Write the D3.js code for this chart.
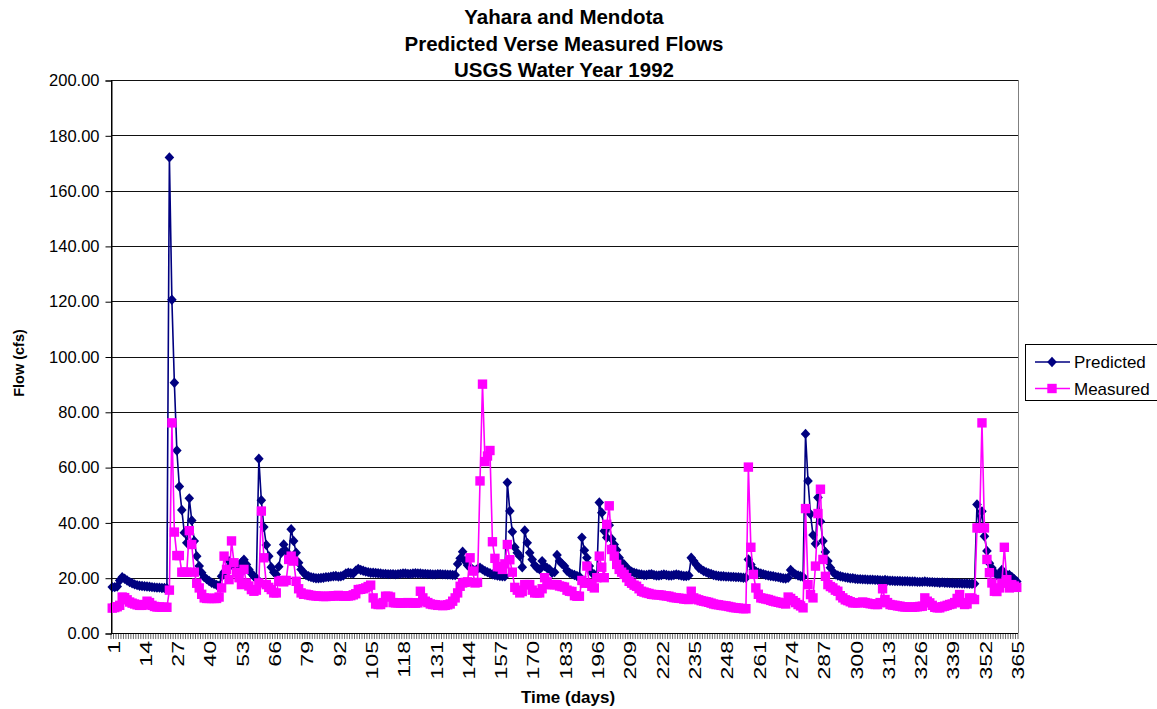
<!DOCTYPE html>
<html>
<head>
<meta charset="utf-8">
<script src="https://cdn.jsdelivr.net/npm/d3@7"></script>
<style>
body { margin: 0; background: #fff; }
text { font-family: "Liberation Sans", Arial, sans-serif; }
</style>
</head>
<body>
<svg id="chart" width="1157" height="709"></svg>
<script>
// flows per day, water year 1992 (day 1 .. 365)
var predicted = [
  16.6, 16.6, 16.8, 19.0, 20.2, 19.6, 19.0, 18.4, 18.0, 17.6,
  17.3, 17.1, 17.0, 16.9, 16.8, 16.7, 16.6, 16.5, 16.4, 16.4,
  16.3, 16.3, 16.2, 172.0, 120.5, 90.5, 66.0, 53.0, 44.5, 36.3,
  32.6, 48.7, 40.7, 33.3, 27.8, 24.2, 21.8, 20.2, 19.5, 18.8,
  18.2, 17.8, 17.4, 17.1, 20.5, 22.0, 23.0, 26.0, 24.8, 24.2,
  23.8, 24.5, 25.5, 26.5, 24.8, 23.0, 21.5, 20.5, 19.8, 63.0,
  48.0, 38.3, 31.8, 27.8, 23.8, 22.0, 21.2, 24.0, 29.0, 32.0,
  29.6, 28.0, 37.5, 33.3, 29.0, 25.4, 23.0, 21.8, 21.0, 20.5,
  20.2, 20.0, 19.8, 19.8, 19.9, 20.0, 20.2, 20.2, 20.4, 20.5,
  20.6, 20.4, 20.5, 20.8, 21.5, 21.8, 21.6, 21.5, 22.5, 23.2,
  22.8, 22.5, 22.2, 22.0, 21.8, 21.8, 21.7, 21.6, 21.5, 21.4,
  21.4, 21.3, 21.3, 21.3, 21.2, 21.3, 21.4, 21.5, 21.5, 21.4,
  21.4, 21.5, 21.6, 21.5, 21.5, 21.4, 21.4, 21.3, 21.3, 21.2,
  21.2, 21.3, 21.3, 21.2, 21.2, 21.1, 21.1, 21.0, 21.0, 25.0,
  27.0, 29.4, 26.0, 24.5, 23.8, 23.0, 22.6, 23.2, 23.6, 23.0,
  22.4, 22.0, 21.6, 21.2, 21.0, 20.8, 20.6, 20.5, 20.5, 54.4,
  44.1, 36.6, 31.0, 29.0, 27.8, 23.8, 37.1, 32.6, 29.0, 26.6,
  24.5, 23.5, 23.0, 26.0, 24.2, 23.5, 23.0, 21.8, 22.0, 28.2,
  26.0, 25.0, 24.2, 22.5, 21.8, 21.3, 21.0, 20.6, 20.4, 34.5,
  29.9, 27.2, 24.2, 21.8, 21.2, 20.8, 47.2, 43.5, 36.9, 34.5,
  39.0, 34.0, 32.0, 30.0, 27.2, 25.5, 24.8, 23.6, 22.8, 22.2,
  21.8, 21.5, 21.3, 21.2, 21.0, 21.0, 21.2, 21.3, 21.0, 20.8,
  20.8, 21.0, 21.2, 21.0, 20.8, 20.8, 21.0, 21.2, 21.0, 20.8,
  20.6, 20.6, 20.8, 27.2, 26.0, 24.8, 23.6, 23.0, 22.4, 22.0,
  21.6, 21.4, 21.0, 20.8, 20.6, 20.5, 20.5, 20.4, 20.4, 20.3,
  20.3, 20.2, 20.2, 20.1, 20.0, 20.0, 26.6, 24.8, 23.0, 22.3,
  21.8, 21.5, 21.3, 21.0, 20.8, 20.6, 20.5, 20.3, 20.2, 20.0,
  19.8, 19.7, 20.0, 22.8, 21.8, 21.2, 20.8, 20.5, 20.3, 72.0,
  55.0, 43.0, 35.4, 32.3, 49.0, 40.3, 33.3, 29.3, 26.0, 23.6,
  22.1, 21.2, 20.8, 20.5, 20.3, 20.1, 20.0, 19.8, 19.8, 19.6,
  19.5, 19.5, 19.4, 19.4, 19.3, 19.3, 19.3, 19.2, 19.2, 19.1,
  19.0, 19.2, 19.0, 18.9, 18.9, 18.8, 18.8, 18.8, 18.7, 18.7,
  18.7, 18.6, 18.6, 18.6, 18.5, 18.5, 18.5, 18.6, 18.5, 18.4,
  18.4, 18.3, 18.3, 18.2, 18.3, 18.2, 18.2, 18.1, 18.1, 18.0,
  18.0, 18.0, 17.9, 17.9, 17.9, 17.8, 17.8, 17.8, 46.5, 38.0,
  44.0, 35.0, 29.7, 25.2, 23.5, 22.0, 21.0, 21.0, 22.8, 21.5,
  21.0, 21.0, 20.3, 19.5, 18.6
];

var measured = [
  9.0, 9.2, 9.5, 10.0, 13.0, 12.8, 12.0, 11.2, 10.8, 10.5,
  10.2, 10.0, 10.0, 10.3, 11.5, 11.0, 10.0, 9.6, 9.4, 9.4,
  9.3, 9.3, 9.3, 15.5, 76.0, 36.5, 28.0, 28.0, 22.0, 22.0,
  22.0, 37.0, 32.0, 22.0, 18.0, 16.3, 14.0, 12.7, 12.5, 12.5,
  12.5, 12.5, 12.5, 13.0, 16.3, 27.8, 23.0, 19.3, 33.3, 25.4,
  21.8, 20.0, 17.5, 23.0, 18.1, 17.0, 15.7, 15.1, 15.5, 18.1,
  44.1, 27.2, 17.5, 16.5, 15.7, 14.5, 14.5, 18.7, 19.0, 18.5,
  19.0, 26.6, 27.8, 26.0, 18.7, 16.0, 14.5, 14.0, 14.0, 13.8,
  13.6, 13.5, 13.4, 13.3, 13.3, 13.2, 13.2, 13.3, 13.3, 13.4,
  13.5, 13.6, 13.4, 13.3, 13.3, 13.4, 13.5, 13.8, 14.2, 15.7,
  15.8, 16.0, 16.3, 16.8, 17.3, 12.7, 10.5, 10.3, 10.3, 11.0,
  13.3, 13.3, 13.0, 11.0, 10.9, 10.9, 10.8, 10.8, 10.9, 11.0,
  10.9, 10.8, 10.8, 10.9, 15.1, 12.7, 11.5, 11.0, 10.5, 10.3,
  10.2, 10.0, 10.0, 9.9, 10.0, 10.2, 10.5, 11.5, 12.7, 14.5,
  16.9, 18.1, 18.3, 18.5, 27.2, 22.4, 18.1, 18.3, 55.0, 90.0,
  62.0, 64.0, 66.0, 33.0, 27.0, 24.0, 24.0, 23.0, 25.0, 32.0,
  26.5, 22.0, 16.5, 15.5, 14.5, 15.0, 17.5, 17.5, 17.5, 15.5,
  14.5, 14.5, 14.5, 16.0, 20.0, 18.5, 17.5, 17.5, 17.5, 17.5,
  17.0, 16.8, 16.6, 15.5, 15.1, 15.0, 13.5, 13.3, 13.3, 19.0,
  18.0, 24.2, 18.0, 16.9, 16.3, 20.0, 27.8, 23.8, 20.0, 39.3,
  46.0, 30.2, 27.8, 24.8, 23.0, 22.0, 21.2, 20.0, 18.7, 18.0,
  17.3, 16.9, 16.0, 15.1, 14.8, 14.5, 14.3, 14.0, 13.9, 13.8,
  13.8, 13.7, 13.5, 13.4, 13.3, 13.0, 12.8, 12.7, 12.6, 12.5,
  12.3, 12.2, 12.1, 15.1, 12.7, 12.3, 12.0, 11.7, 11.5, 11.3,
  11.1, 10.8, 10.5, 10.3, 10.2, 10.0, 9.9, 9.8, 9.6, 9.4,
  9.2, 9.1, 9.0, 8.9, 8.8, 8.8, 60.0, 31.0, 21.2, 16.3,
  14.0, 12.7, 12.5, 12.3, 12.1, 11.8, 11.5, 11.3, 11.1, 10.9,
  10.7, 10.5, 13.0, 12.5, 11.7, 11.0, 10.3, 9.8, 9.1, 45.0,
  17.5, 13.9, 12.7, 24.2, 43.2, 52.0, 26.6, 20.5, 17.5, 16.8,
  16.3, 15.5, 15.1, 13.5, 12.7, 12.0, 11.7, 11.3, 10.9, 10.9,
  10.9, 11.0, 11.2, 11.0, 10.8, 10.6, 10.5, 10.3, 10.3, 11.0,
  16.0, 12.1, 11.0, 10.3, 10.1, 10.0, 9.8, 9.7, 9.5, 9.4,
  9.4, 9.3, 9.3, 9.4, 9.5, 9.6, 9.7, 12.7, 11.5, 10.9,
  10.0, 9.3, 9.1, 9.1, 9.5, 9.7, 10.0, 10.3, 10.5, 11.0,
  12.5, 13.9, 11.0, 10.3, 10.5, 12.7, 12.5, 12.1, 38.0, 38.0,
  76.0, 38.0, 26.6, 21.8, 18.1, 15.1, 15.0, 16.3, 18.0, 31.0,
  19.3, 16.3, 17.5, 17.0, 16.5
];

var days = predicted.map(function(d, i) { return i + 1; });
var dayLabels = [1, 14, 27, 40, 53, 66, 79, 92, 105, 118, 131, 144, 157, 170,
                 183, 196, 209, 222, 235, 248, 261, 274, 287, 300, 313, 326, 339, 352, 365];
var flowTicks = [0, 20, 40, 60, 80, 100, 120, 140, 160, 180, 200];
var titleLines = ['Yahara and Mendota', 'Predicted Verse Measured Flows', 'USGS Water Year 1992'];

var plotLeft = 111, plotRight = 1018, plotTop = 80, plotBottom = 633;

var svg = d3.select('#chart');

var x = d3.scaleBand().domain(days).range([plotLeft, plotRight]);
var y = d3.scaleLinear().domain([0, 200]).range([plotBottom, plotTop]);
function cx(d) { return x(d) + x.bandwidth() / 2; }

// gridlines
svg.append('g')
   .selectAll('line')
   .data(flowTicks.filter(function(d) { return d > 0; }))
   .enter()
   .append('line')
   .attr('x1', plotLeft).attr('x2', plotRight)
   .attr('y1', function(d) { return Math.round(y(d)) + 0.5; })
   .attr('y2', function(d) { return Math.round(y(d)) + 0.5; })
   .attr('stroke', '#111')
   .attr('stroke-width', 1);

// plot border (right side grey)
svg.append('line')
   .attr('x1', plotRight + 0.5).attr('x2', plotRight + 0.5)
   .attr('y1', plotTop).attr('y2', plotBottom)
   .attr('stroke', '#808080');

// y axis
var yAxis = d3.axisLeft(y)
    .tickValues(flowTicks)
    .tickSize(6)
    .tickPadding(6)
    .tickFormat(d3.format('.2f'));
var yg = svg.append('g')
   .attr('transform', 'translate(' + (plotLeft + 0.5) + ',0.5)')
   .call(yAxis);
yg.selectAll('text').style('font-size', '16.5px').attr('fill', '#000');
yg.selectAll('line, path').attr('stroke', '#000');

// x axis: tick at every category boundary
var xg = svg.append('g');
xg.append('line')
  .attr('x1', plotLeft).attr('x2', plotRight)
  .attr('y1', plotBottom + 0.5).attr('y2', plotBottom + 0.5)
  .attr('stroke', '#000');
xg.selectAll('line.tk')
  .data(days.concat([366]))
  .enter()
  .append('line')
  .attr('class', 'tk')
  .attr('x1', function(d) { return (d <= 365 ? x(d) : plotRight); })
  .attr('x2', function(d) { return (d <= 365 ? x(d) : plotRight); })
  .attr('y1', plotBottom).attr('y2', plotBottom + 6)
  .attr('stroke', '#000')
  .attr('stroke-width', 0.6);

xg.selectAll('text')
  .data(dayLabels)
  .enter()
  .append('text')
  .attr('transform', function(d) {
     return 'translate(' + (cx(d) + 1.5) + ',' + (plotBottom + 8) + ') rotate(-90) scale(1.4,1)';
  })
  .attr('text-anchor', 'end')
  .attr('dy', '0.35em')
  .style('font-size', '16.5px')
  .text(function(d) { return d; });

// titles
svg.append('g')
   .selectAll('text')
   .data(titleLines)
   .enter()
   .append('text')
   .attr('x', 564)
   .attr('y', function(d, i) { return 24 + i * 26.5; })
   .attr('text-anchor', 'middle')
   .style('font-size', '20.5px')
   .style('font-weight', 'bold')
   .text(function(d) { return d; });

svg.append('text')
   .attr('x', 568).attr('y', 703)
   .attr('text-anchor', 'middle')
   .style('font-size', '17px')
   .style('font-weight', 'bold')
   .text('Time (days)');

svg.append('text')
   .attr('transform', 'translate(24,363) rotate(-90)')
   .attr('text-anchor', 'middle')
   .style('font-size', '14.5px')
   .style('font-weight', 'bold')
   .text('Flow (cfs)');

// series
var diamond = 'M0,-5.2L4.8,0L0,5.2L-4.8,0Z';
var square = 'M-4.7,-4.7H4.7V4.7H-4.7Z';

var series = [
  { name: 'Predicted', values: predicted, color: '#000080', marker: diamond },
  { name: 'Measured', values: measured, color: '#FF00FF', marker: square }
];

var line = d3.line()
    .x(function(d, i) { return cx(i + 1); })
    .y(function(d) { return y(d); });

series.forEach(function(s) {
  var g = svg.append('g');
  g.append('path')
   .attr('d', line(s.values))
   .attr('fill', 'none')
   .attr('stroke', s.color)
   .attr('stroke-width', 1.6);
  g.selectAll('path.m')
   .data(s.values)
   .enter()
   .append('path')
   .attr('class', 'm')
   .attr('d', s.marker)
   .attr('transform', function(d, i) { return 'translate(' + cx(i + 1) + ',' + y(d) + ')'; })
   .attr('fill', s.color);
});

// y axis line drawn on top
svg.append('line')
   .attr('x1', plotLeft + 0.5).attr('x2', plotLeft + 0.5)
   .attr('y1', plotTop).attr('y2', plotBottom)
   .attr('stroke', '#000');

// legend
var lg = svg.append('g');
lg.append('rect')
  .attr('x', 1025.5).attr('y', 344.5)
  .attr('width', 140).attr('height', 56)
  .attr('fill', '#fff')
  .attr('stroke', '#000');
series.forEach(function(s, i) {
  var ly = 362 + i * 26.5;
  lg.append('line')
    .attr('x1', 1035).attr('x2', 1070)
    .attr('y1', ly).attr('y2', ly)
    .attr('stroke', s.color)
    .attr('stroke-width', 1.6);
  lg.append('path')
    .attr('d', s.marker)
    .attr('transform', 'translate(1052,' + ly + ')')
    .attr('fill', s.color);
  lg.append('text')
    .attr('x', 1074).attr('y', ly + 6)
    .style('font-size', '17px')
    .text(s.name);
});
</script>
</body>
</html>
